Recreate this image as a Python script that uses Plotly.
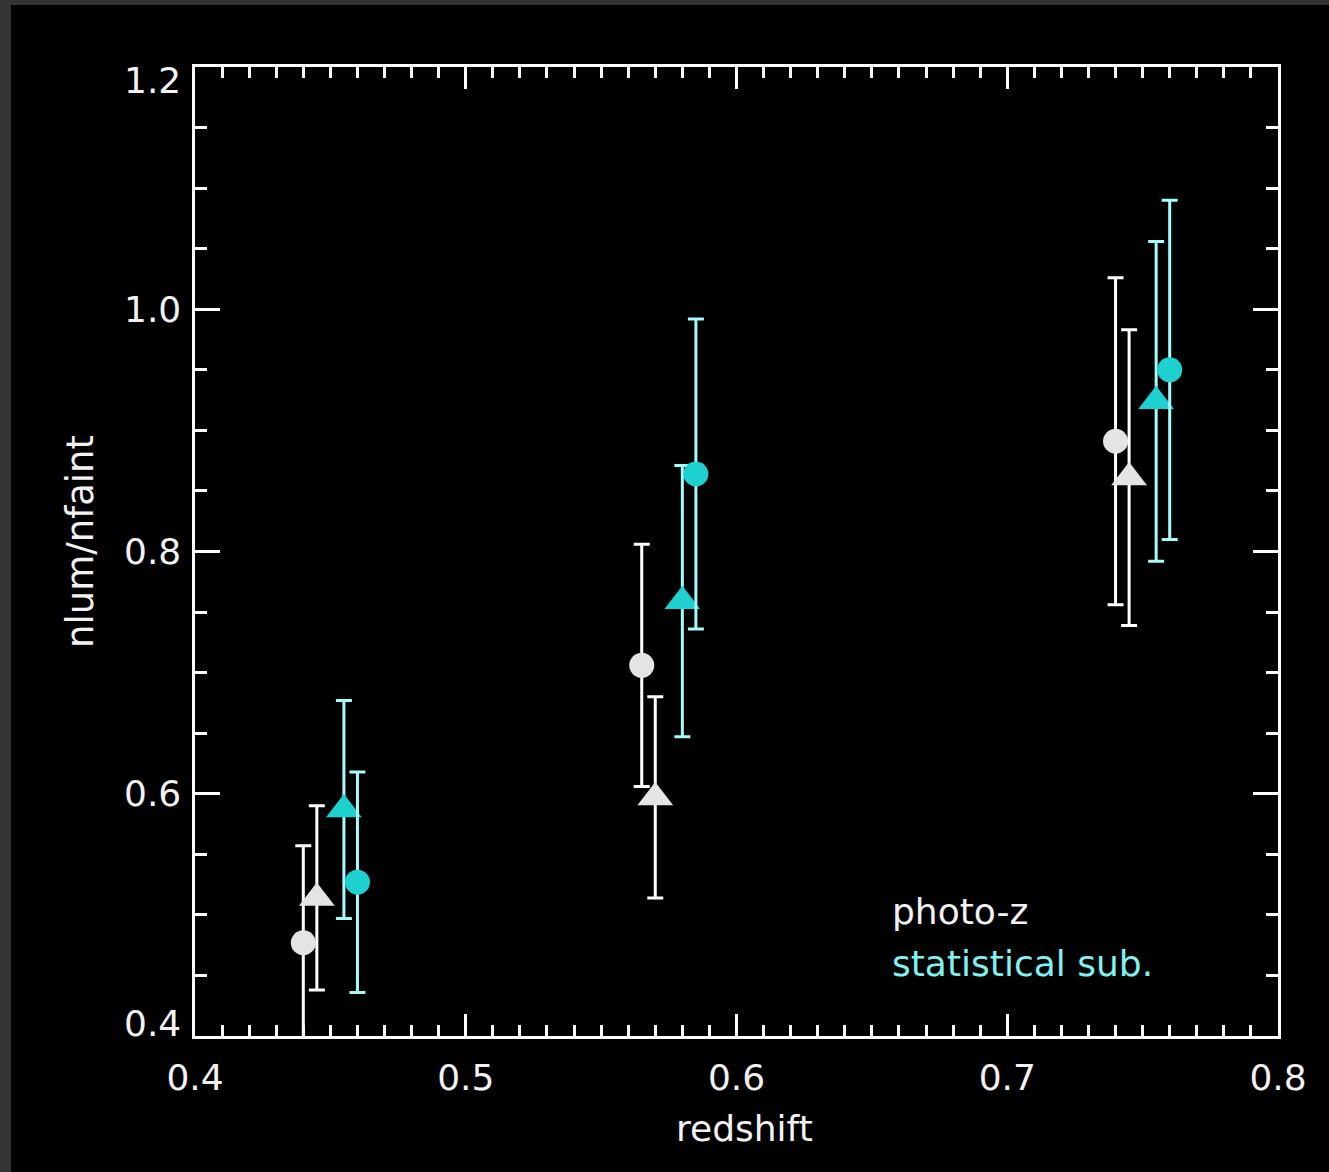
import plotly.graph_objects as go

# ---- data -------------------------------------------------------------
# photo-z sample
pz_circ_x = [0.44, 0.565, 0.74]
pz_circ_y = [0.477, 0.706, 0.891]
pz_circ_err = [0.080, 0.100, 0.135]

pz_tri_x = [0.445, 0.57, 0.745]
pz_tri_y = [0.514, 0.597, 0.861]
pz_tri_err = [0.076, 0.083, 0.122]

# statistical background subtraction
ss_tri_x = [0.455, 0.58, 0.755]
ss_tri_y = [0.587, 0.759, 0.924]
ss_tri_err = [0.090, 0.112, 0.132]

ss_circ_x = [0.46, 0.585, 0.76]
ss_circ_y = [0.527, 0.864, 0.950]
ss_circ_err = [0.091, 0.128, 0.140]

x_ticks = [0.4, 0.5, 0.6, 0.7, 0.8]
x_ticklabels = ["0.4", "0.5", "0.6", "0.7", "0.8"]
y_ticks = [0.4, 0.6, 0.8, 1.0, 1.2]
y_ticklabels = ["0.4", "0.6", "0.8", "1.0", "1.2"]

legend_labels = ["photo-z", "statistical sub."]

# ---- layout geometry (pixels) ------------------------------------------
W, H = 1329, 1172
ML, MR, MT, MB = 195, 51, 67, 136
PW, PH = W - ML - MR, H - MT - MB


def paper_x(px):
    return (px - ML) / PW


def paper_y(py):
    return (H - MB - py) / PH


FONT = "DejaVu Sans"
WHITE = "#f2f2f2"
GREY_MK = "#e4e4e4"
CYAN_MK = "#1fd0d0"
CYAN_BAR = "#a6fbfb"
CYAN_TXT = "#7ff2f2"

fig = go.Figure()


def add_series(x, y, err, symbol, size, mcolor, bcolor, name):
    fig.add_trace(go.Scatter(
        x=x, y=y, mode="markers", name=name, showlegend=False,
        marker=dict(symbol=symbol, size=size, color=mcolor, line=dict(width=0)),
        error_y=dict(type="data", array=err, visible=True,
                     color=bcolor, thickness=3, width=8),
    ))


add_series(pz_circ_x, pz_circ_y, pz_circ_err, "circle", 25, GREY_MK, "#ffffff", "photo-z circ")
add_series(pz_tri_x, pz_tri_y, pz_tri_err, "triangle-up", 31, GREY_MK, "#ffffff", "photo-z tri")
add_series(ss_tri_x, ss_tri_y, ss_tri_err, "triangle-up", 31, CYAN_MK, CYAN_BAR, "stat tri")
add_series(ss_circ_x, ss_circ_y, ss_circ_err, "circle", 25, CYAN_MK, CYAN_BAR, "stat circ")

axis_common = dict(
    showgrid=False, zeroline=False, showline=True, linecolor="#ffffff",
    linewidth=3, mirror="ticks", ticks="inside", tickcolor="#ffffff",
    tickwidth=3,
)

fig.update_xaxes(
    range=[0.4, 0.8], tickvals=x_ticks, ticktext=x_ticklabels, ticklen=22,
    minor=dict(dtick=0.01, ticks="inside", ticklen=11, tickwidth=3,
               tickcolor="#ffffff", showgrid=False),
    tickfont=dict(family=FONT, size=36, color=WHITE),
    ticklabelstandoff=8,
    **axis_common,
)
fig.update_yaxes(
    range=[0.4, 1.2], tickvals=y_ticks, showticklabels=False, ticklen=25,
    minor=dict(dtick=0.05, ticks="inside", ticklen=12, tickwidth=3,
               tickcolor="#ffffff", showgrid=False),
    **axis_common,
)

annotations = []
# y tick labels, end labels tucked inside the axis span
for v, lab in zip(y_ticks, y_ticklabels):
    shift = 0
    if v == max(y_ticks):
        shift = -13
    elif v == min(y_ticks):
        shift = 13
    annotations.append(dict(
        x=0, xref="paper", y=v, yref="y", text=lab, showarrow=False,
        xanchor="right", yanchor="middle", xshift=-12, yshift=shift,
        font=dict(family=FONT, size=36, color=WHITE),
    ))

# axis titles
annotations.append(dict(
    x=paper_x(744), y=paper_y(1128), xref="paper", yref="paper",
    text="redshift", showarrow=False, xanchor="center", yanchor="middle",
    font=dict(family=FONT, size=36, color=WHITE),
))
annotations.append(dict(
    x=paper_x(80), y=paper_y(542), xref="paper", yref="paper",
    text="nlum/nfaint", showarrow=False, xanchor="center", yanchor="middle",
    textangle=-90, font=dict(family=FONT, size=37, color=WHITE),
))

# in-plot legend text
annotations.append(dict(
    x=paper_x(890), y=paper_y(911), xref="paper", yref="paper",
    text=legend_labels[0], showarrow=False, xanchor="left", yanchor="middle",
    font=dict(family=FONT, size=36, color=WHITE),
))
annotations.append(dict(
    x=paper_x(890), y=paper_y(963), xref="paper", yref="paper",
    text=legend_labels[1], showarrow=False, xanchor="left", yanchor="middle",
    font=dict(family=FONT, size=36, color=CYAN_TXT),
))

# dark frame strips along the top and left edges of the canvas
shapes = [
    dict(type="rect", xref="paper", yref="paper", layer="below",
         x0=paper_x(0), x1=paper_x(11), y0=paper_y(H), y1=paper_y(0),
         fillcolor="#333333", line=dict(width=0)),
    dict(type="rect", xref="paper", yref="paper", layer="below",
         x0=paper_x(0), x1=paper_x(W), y0=paper_y(5), y1=paper_y(0),
         fillcolor="#333333", line=dict(width=0)),
]

fig.update_layout(
    width=W, height=H,
    margin=dict(l=ML, r=MR, t=MT, b=MB, pad=0),
    paper_bgcolor="#000000", plot_bgcolor="#000000",
    annotations=annotations, shapes=shapes,
    showlegend=False,
)

fig.write_html("out.html")
